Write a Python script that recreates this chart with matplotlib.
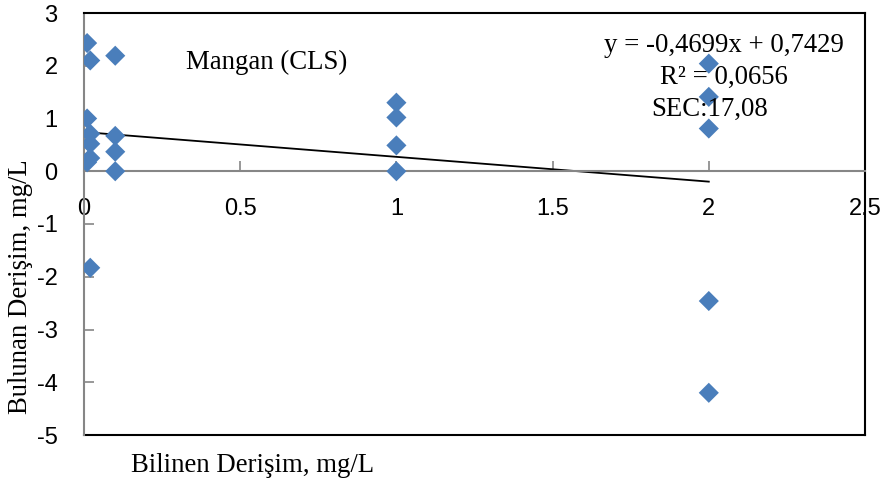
import matplotlib.pyplot as plt
from matplotlib.lines import Line2D

# known vs found concentration, mg/L
bilinen = [0.01, 0.01, 0.01,
           0.02, 0.02, 0.02, 0.02, 0.02,
           0.1, 0.1, 0.1, 0.1,
           1, 1, 1, 1,
           2, 2, 2, 2, 2]
bulunan = [2.43, 1.00, 0.17,
           2.10, 0.71, 0.52, 0.25, -1.83,
           2.19, 0.67, 0.37, 0.00,
           1.30, 1.02, 0.49, 0.00,
           2.04, 1.41, 0.81, -2.46, -4.20]

egim = -0.4699
kesim = 0.7429
trend_x = [0, 2]
xticks = [0, 0.5, 1, 1.5, 2, 2.5]
yticks = [-5, -4, -3, -2, -1, 0, 1, 2, 3]

serif = 'Liberation Serif'
sans = 'Liberation Sans'
plt.rcParams['axes.unicode_minus'] = False

fig = plt.figure(figsize=(8.86, 4.88), dpi=100)
ax = fig.add_axes([84/886, 53/488, 781/886, 422/488])

ax.scatter(bilinen, bulunan, marker='D', s=105, color='#4a7ebb',
           edgecolors='none', zorder=3)
ax.plot(trend_x, [egim*v + kesim for v in trend_x], color='black', lw=1.3, zorder=2)

ax.set_xlim(0, 2.5)
ax.set_ylim(-5, 3)
ax.set_xticks(xticks)
ax.set_xticklabels(['0', '0.5', '1', '1.5', '2', '2.5'])
ax.set_yticks(yticks)

# x axis crosses at y = 0, frame drawn around the plot area
ax.spines['bottom'].set_position(('data', 0))
ax.spines['bottom'].set_color('#868686')
ax.spines['left'].set_color('#868686')
ax.spines['top'].set_color('black')
ax.spines['right'].set_color('black')
for s in ax.spines.values():
    s.set_linewidth(1.5)
ax.add_line(Line2D([0, 1], [0, 0], transform=ax.transAxes, color='black',
                   lw=1.5, clip_on=False))

ax.tick_params(axis='both', direction='in', length=7, width=1.2, color='#868686',
               labelsize=17)
ax.tick_params(axis='x', pad=19)
ax.tick_params(axis='y', pad=19)
for lab in ax.get_xticklabels() + ax.get_yticklabels():
    lab.set_fontfamily(sans)

fig.text(267/886, 1 - 62/488, 'Mangan (CLS)', family=serif, fontsize=19.3,
         ha='center', va='center')
fig.text(724/886, 1 - 46/488, 'y = -0,4699x + 0,7429', family=serif, fontsize=19.3,
         ha='center', va='center')
fig.text(724/886, 1 - 77/488, 'R² = 0,0656', family=serif, fontsize=19.3,
         ha='center', va='center')
fig.text(710/886, 1 - 109/488, 'SEC:17,08', family=serif, fontsize=19.3,
         ha='center', va='center')

fig.text(253/886, 1 - 466/488, 'Bilinen Derişim, mg/L', family=serif, fontsize=19.3,
         ha='center', va='center')
fig.text(21/886, 1 - 287/488, 'Bulunan Derişim, mg/L', family=serif, fontsize=19.3,
         ha='center', va='center', rotation=90)

fig.savefig('out.png', dpi=100)
